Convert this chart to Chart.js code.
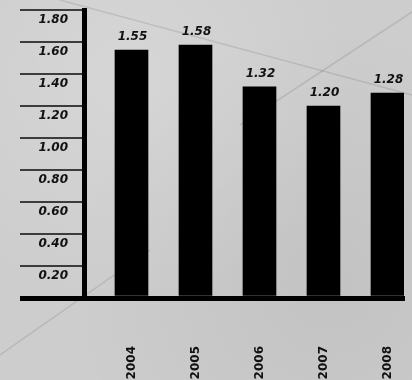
<!DOCTYPE html>
<html>
<head>
<meta charset="utf-8">
<script src="https://cdn.jsdelivr.net/npm/chart.js@4/dist/chart.umd.min.js"></script>
<style>
  html, body { margin: 0; padding: 0; }
  body {
    width: 412px;
    height: 380px;
    overflow: hidden;
    background-color: #cdcdcd;
    background-image:
      url("data:image/svg+xml,%3Csvg xmlns='http://www.w3.org/2000/svg' width='412' height='380'%3E%3Cg fill='none' stroke='%23000' stroke-opacity='0.10' stroke-width='1.5'%3E%3Cpath d='M60 0 L412 95'/%3E%3Cpath d='M412 12 L240 125'/%3E%3Cpath d='M0 355 L150 250'/%3E%3C/g%3E%3C/svg%3E"),
      radial-gradient(circle at 30% 20%, rgba(255,255,255,0.18), rgba(255,255,255,0) 55%),
      radial-gradient(circle at 80% 75%, rgba(0,0,0,0.05), rgba(0,0,0,0) 60%);
  }
  #wrap { position: relative; width: 412px; height: 380px; }
</style>
</head>
<body>
<div id="wrap"><canvas id="myChart" width="412" height="380"></canvas></div>
<script>
const years = ['2004', '2005', '2006', '2007', '2008'];
const values = [1.55, 1.58, 1.32, 1.20, 1.28];
const yMax = 1.8;
const yStep = 0.2;

const labelFont = { family: '"DejaVu Sans"', size: 12, style: 'italic', weight: 'bold' };
const yearFont = { family: '"DejaVu Sans"', size: 12, weight: 'bold' };

// writes the value above each bar
const barValueLabels = {
    id: 'barValueLabels',
    afterDatasetsDraw(chart) {
        const ctx = chart.ctx;
        const meta = chart.getDatasetMeta(0);
        ctx.save();
        ctx.font = 'italic bold 12px "DejaVu Sans"';
        ctx.fillStyle = '#111';
        ctx.textAlign = 'center';
        ctx.textBaseline = 'alphabetic';
        meta.data.forEach((bar, i) => {
            ctx.fillText(values[i].toFixed(2), bar.x + 1, bar.y - 10);
        });
        ctx.restore();
    }
};

function getChartOptions() {
    return {
        responsive: false,
        animation: false,
        devicePixelRatio: 1,
        layout: { padding: { left: 20, top: 10, right: 8, bottom: 0 } },
        plugins: {
            legend: { display: false },
            tooltip: { enabled: false }
        },
        scales: {
            x: {
                type: 'linear',
                offset: false,
                min: -0.742,
                max: 4.258,
                afterBuildTicks: scale => {
                    scale.ticks = years.map((_, i) => ({ value: i }));
                },
                afterFit: scale => {
                    scale.height = 82;
                    scale.paddingLeft = 0;
                    scale.paddingRight = 0;
                },
                grid: { display: false },
                border: { display: true, color: '#000', width: 5 },
                ticks: {
                    autoSkip: false,
                    minRotation: 90,
                    maxRotation: 90,
                    padding: 40,
                    color: '#111',
                    font: yearFont,
                    callback: v => years[v] ?? ''
                }
            },
            y: {
                min: 0,
                max: yMax,
                afterFit: scale => { scale.width = 64; },
                border: { display: true, color: '#000', width: 5 },
                grid: {
                    drawOnChartArea: false,
                    drawTicks: true,
                    tickLength: 64,
                    color: c => (c.tick && c.tick.value === 0) ? '#000' : '#3c3c3c',
                    lineWidth: c => (c.tick && c.tick.value === 0) ? 5 : 2
                },
                ticks: {
                    stepSize: yStep,
                    padding: -48,
                    labelOffset: 10,
                    color: '#111',
                    font: labelFont,
                    callback: v => v === 0 ? '' : v.toFixed(2)
                }
            }
        }
    };
}

document.addEventListener('DOMContentLoaded', function () {
    const ctx = document.getElementById('myChart').getContext('2d');
    new Chart(ctx, {
        type: 'bar',
        data: {
            datasets: [{
                label: 'Value',
                data: values.map((v, i) => ({ x: i, y: v })),
                backgroundColor: '#000',
                borderWidth: 0,
                barThickness: 33
            }]
        },
        options: getChartOptions(),
        plugins: [barValueLabels]
    });
});
</script>
</body>
</html>
